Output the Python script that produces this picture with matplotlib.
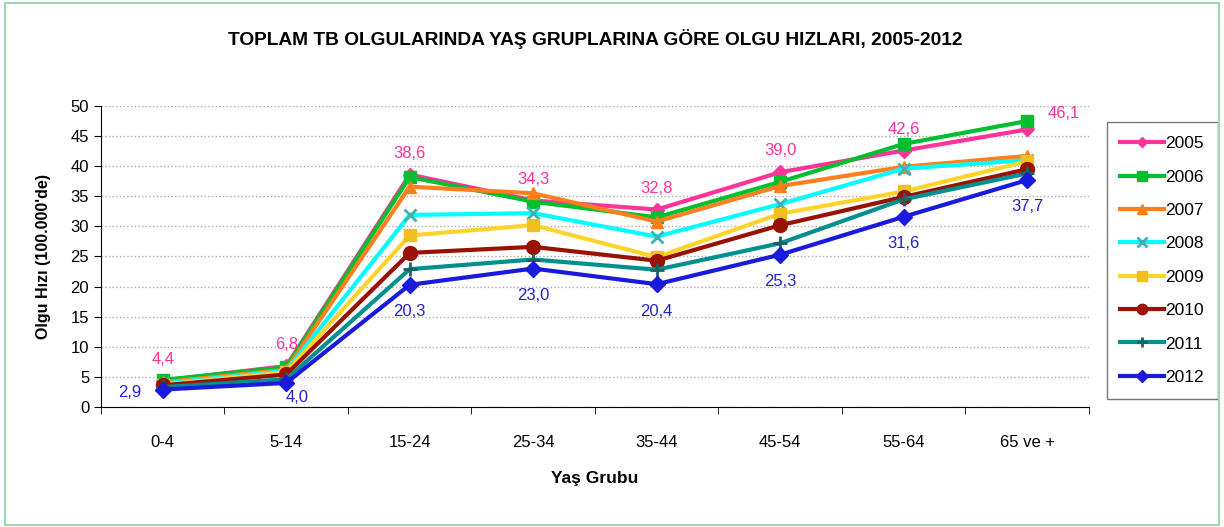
import numpy as np
import matplotlib
matplotlib.use('Agg')
import matplotlib.pyplot as plt
from matplotlib.patches import Rectangle

plt.rcParams['font.family'] = ['Liberation Sans', 'DejaVu Sans']

# veriler
gruplar = ['0-4', '5-14', '15-24', '25-34', '35-44', '45-54', '55-64', '65 ve +']
y2005 = [4.4, 6.8, 38.6, 34.3, 32.8, 39.0, 42.6, 46.1]
y2006 = [4.5, 6.6, 38.2, 34.1, 31.5, 37.4, 43.7, 47.5]
y2007 = [4.1, 6.2, 36.6, 35.5, 30.8, 36.7, 39.9, 41.7]
y2008 = [3.9, 6.0, 31.9, 32.2, 28.3, 33.7, 39.6, 41.0]
y2009 = [3.7, 5.8, 28.5, 30.2, 24.9, 32.1, 35.8, 40.8]
y2010 = [3.6, 5.4, 25.6, 26.6, 24.3, 30.2, 34.9, 39.5]
y2011 = [3.3, 4.6, 22.9, 24.5, 22.8, 27.2, 34.5, 38.8]
y2012 = [2.9, 4.0, 20.3, 23.0, 20.4, 25.3, 31.6, 37.7]
yillar = ['2005', '2006', '2007', '2008', '2009', '2010', '2011', '2012']

seriler = [y2005, y2006, y2007, y2008, y2009, y2010, y2011, y2012]
renkler = ['#ff3399', '#00c030', '#ff7f1e', '#00ffff', '#ffd42a', '#991100', '#009090', '#1a1adc']
mrenk = ['#ff3399', '#00c030', '#ff7f1e', '#40b0b0', '#f0c020', '#991100', '#206060', '#1a1adc']
isaretler = ['D', 's', '^', 'x', 's', 'o', '+', 'D']
boyut = [7, 9, 9, 9, 9, 10, 10, 8]

fig = plt.figure(figsize=(12.24, 5.27), dpi=100, facecolor='white')
fig.patches.append(Rectangle((0.004, 0.004), 0.992, 0.99, transform=fig.transFigure,
                             fill=False, edgecolor='#99d9aa', linewidth=1.5))
ax = fig.add_axes([0.0825, 0.2277, 0.8072, 0.5712])

x = np.arange(len(gruplar))
for i in range(len(seriler)):
    ax.plot(x, seriler[i], color=renkler[i], linewidth=3, marker=isaretler[i],
            markersize=boyut[i], markerfacecolor=mrenk[i], markeredgecolor=mrenk[i],
            markeredgewidth=2 if isaretler[i] in ['x', '+'] else 1, label=yillar[i])

# etiketler
for i, v in enumerate(y2005):
    s = ('%.1f' % v).replace('.', ',')
    if i == 7:
        ax.annotate(s, (x[i], v), xytext=(26, 6), textcoords='offset points',
                    ha='center', va='bottom', color='#ff3399', fontsize=12)
    else:
        ax.annotate(s, (x[i], v), xytext=(0, 10), textcoords='offset points',
                    ha='center', va='bottom', color='#ff3399', fontsize=12)
for i, v in enumerate(y2012):
    s = ('%.1f' % v).replace('.', ',')
    if i == 0:
        ax.annotate(s, (x[i], v), xytext=(-24, -2), textcoords='offset points',
                    ha='center', va='center', color='#2222cc', fontsize=12)
    elif i == 1:
        ax.annotate(s, (x[i], v), xytext=(8, -5), textcoords='offset points',
                    ha='center', va='top', color='#2222cc', fontsize=12)
    else:
        ax.annotate(s, (x[i], v), xytext=(0, -14), textcoords='offset points',
                    ha='center', va='top', color='#2222cc', fontsize=12)

ax.set_xlim(-0.5, 7.5)
ax.set_ylim(0, 50)
ax.set_yticks(np.arange(0, 51, 5))
ax.set_xticks(x)
ax.set_xticklabels(gruplar)
ax.set_xticks(np.arange(-0.5, 8, 1), minor=True)
ax.tick_params(axis='x', which='major', length=0, pad=20, labelsize=12)
ax.tick_params(axis='x', which='minor', length=5, direction='out')
ax.tick_params(axis='y', labelsize=12, length=5, direction='out')
ax.grid(axis='y', color='#aaaaaa', linestyle=':', linewidth=1)
ax.spines['right'].set_visible(False)
ax.spines['top'].set_visible(False)
ax.set_axisbelow(True)

ax.set_title('TOPLAM TB OLGULARINDA YAŞ GRUPLARINA GÖRE OLGU HIZLARI, 2005-2012',
             fontsize=13.8, fontweight='bold', pad=44)
ax.set_xlabel('Yaş Grubu', fontsize=12.5, fontweight='bold', labelpad=15)
ax.set_ylabel("Olgu Hızı (100.000'de)", fontsize=11.5, fontweight='bold', labelpad=14)

leg = ax.legend(loc='upper left', bbox_to_anchor=(1.009, 0.975), fontsize=12.5,
                frameon=True, fancybox=False, edgecolor='#555555',
                labelspacing=1.05, handlelength=2.5, handletextpad=0.1, borderpad=0.8,
                markerscale=0.75)
leg.get_frame().set_linewidth(1)

fig.savefig('out.png', dpi=100, facecolor='white')
